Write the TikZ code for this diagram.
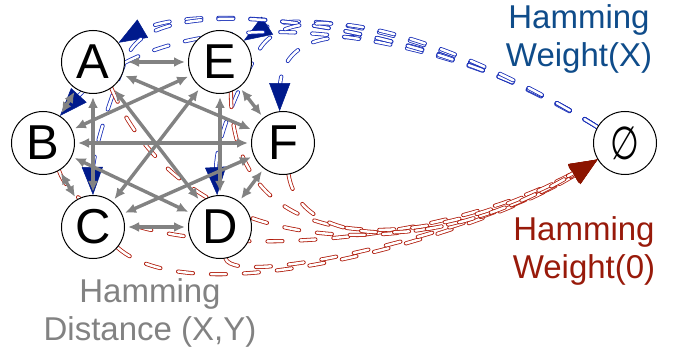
\documentclass[tikz,border=0pt]{standalone}
\usepackage{fontspec}
\usepackage{graphicx}
\setmainfont{Liberation Sans}
\newfontfamily\symfont{DejaVu Sans}
\usetikzlibrary{arrows.meta}
\definecolor{bline}{HTML}{1A30B8}
\definecolor{btip}{HTML}{001A8C}
\definecolor{blab}{HTML}{0F4C8A}
\definecolor{rline}{HTML}{B01C0C}
\definecolor{rtip}{HTML}{8C1400}
\definecolor{rlab}{HTML}{981A0A}
\definecolor{gline}{HTML}{828282}
\pgfdeclarelayer{dashlayer}
\pgfdeclarelayer{graylayer}
\pgfsetlayers{dashlayer,graylayer,main}
\tikzset{
  vtx/.style={circle, draw=black, line width=1pt, fill=white, minimum size=63pt, inner sep=0pt,
    font=\fontsize{49}{49}\selectfont},
  hd/.style={draw=gline, line width=3.4pt, {Latex[length=11pt,width=10pt]}-{Latex[length=11pt,width=10pt]},
    shorten <=3pt, shorten >=3pt},
  bdash/.style={draw=bline, line width=0.8pt, double=white, double distance=2.5pt,
    dash pattern=on 15pt off 17pt, line cap=round, shorten >=20pt},
  btipst/.style={draw=btip, line width=0.5pt, dash pattern=on 0pt off 3000pt, line cap=butt,
    -{Triangle[length=28pt,width=21pt,fill=btip,color=btip]}},
  rdash/.style={draw=rline, line width=0.8pt, double=white, double distance=2.5pt,
    dash pattern=on 15pt off 18pt, line cap=round, shorten >=20pt},
  rtipst/.style={draw=rtip, line width=0.5pt, dash pattern=on 0pt off 3000pt, line cap=butt,
    -{Triangle[length=28pt,width=21pt,fill=rtip,color=rtip]}},
  lab/.style={align=center, font=\fontsize{33}{38}\selectfont, anchor=base, inner sep=0pt}
}
\newcommand\bluecurve[1]{\draw[bdash] #1; \draw[btipst] #1;}
\newcommand\redcurve[1]{\draw[rdash] #1; \draw[rtipst] #1;}
\begin{document}
\begin{tikzpicture}[x=1pt,y=-1pt]
\useasboundingbox (0,0) rectangle (678,350);
% nodes
\node[vtx] (A) at (93,62) {A};
\node[vtx] (E) at (220,62) {E};
\node[vtx] (B) at (43,143) {B};
\node[vtx] (F) at (283,143) {F};
\node[vtx] (C) at (93,227) {C};
\node[vtx] (D) at (220,227) {D};
\node[vtx] (Z) at (625,143) {\symfont\scalebox{0.72}[1]{\fontsize{46}{46}\selectfont ∅}};
% labels
\node[lab, text=blab] (lw) at (579,67) {Hamming\\Weight(X)};
\node[lab, text=rlab] (l0) at (584,278) {Hamming\\Weight(0)};
\node[lab, text=gline] (ld) at (150,340) {Hamming\\Distance (X,Y)};
% dashed paths
\begin{pgfonlayer}{dashlayer}
\bluecurve{(Z.150) .. controls (450,30) and (200,-5) .. (A.37)}
\bluecurve{(Z.150) .. controls (450,35) and (300,5) .. (E.42)}
\bluecurve{(Z.150) .. controls (450,40) and (280,-5) .. (F.96)}
\bluecurve{(Z.150) .. controls (450,30) and (180,-15) .. (B.58)}
\bluecurve{(Z.150) .. controls (450,30) and (160,-20) .. (128,55) .. controls (116,83) and (92,150) .. (C.90)}
\bluecurve{(Z.150) .. controls (450,35) and (290,-10) .. (258,52) .. controls (240,85) and (214,140) .. (D.95)}
\redcurve{(C.-40) .. controls (200,320) and (498,228) .. (Z.211)}
\redcurve{(D.-80) .. controls (235,290) and (498,228) .. (Z.211)}
\redcurve{(B.-60) .. controls (95,270) and (420,260) .. (Z.211)}
\redcurve{(A.-55) .. controls (190,270) and (430,265) .. (Z.211)}
\redcurve{(E.-70) .. controls (230,260) and (420,260) .. (Z.211)}
\redcurve{(F.-80) .. controls (300,250) and (440,255) .. (Z.211)}
\end{pgfonlayer}
% gray complete graph
\begin{pgfonlayer}{graylayer}
\foreach \u/\v in {A/E,A/B,A/C,A/D,A/F,E/B,E/C,E/D,E/F,B/F,B/C,B/D,F/C,F/D,C/D}
  \draw[hd] (\u) -- (\v);
\end{pgfonlayer}
\end{tikzpicture}
\end{document}
